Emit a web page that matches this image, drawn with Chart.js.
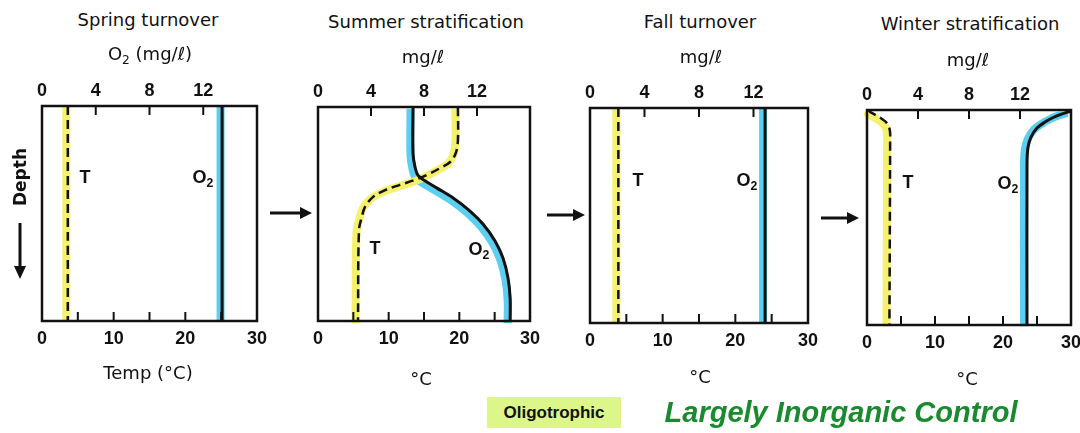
<!DOCTYPE html>
<html>
<head>
<meta charset="utf-8">
<script src="https://cdn.jsdelivr.net/npm/chart.js@4.4.0/dist/chart.umd.min.js"></script>
<style>
  html, body { margin: 0; padding: 0; background: #fff; }
  #stage { position: relative; width: 1080px; height: 433px; overflow: hidden; font-family: "DejaVu Sans", sans-serif; color: #111; }
  .pane { position: absolute; }
  .t { position: absolute; transform: translate(-50%, -50%); white-space: nowrap; line-height: 1; }
  .title { font-size: 18px; }
  .lab { font-family: "Liberation Sans", Arial, sans-serif; font-weight: bold; font-size: 18px; }
  sub { font-size: 0.68em; vertical-align: -0.35em; line-height: 0; }
  #oligo { position: absolute; left: 487px; top: 397px; width: 134px; height: 31px; background: #dcf68a;
           font-family: "Liberation Sans", Arial, sans-serif; font-weight: bold; font-size: 17px;
           display: flex; align-items: center; justify-content: center; }
  #control { font-family: "Liberation Sans", Arial, sans-serif; font-weight: bold; font-style: italic; font-size: 29px; color: #198a2d; }
  svg { position: absolute; left: 0; top: 0; }
</style>
</head>
<body>
<div id="stage">
  <div class="t title" style="left:148px;top:20px">Spring turnover</div>
  <div class="t title" style="left:150px;top:54px">O<sub>2</sub> (mg/ℓ)</div>
  <div class="t title" style="left:148px;top:373px">Temp (°C)</div>

  <div class="t title" style="left:426px;top:22px">Summer stratification</div>
  <div class="t title" style="left:423px;top:57px">mg/ℓ</div>
  <div class="t title" style="left:421px;top:379px">°C</div>

  <div class="t title" style="left:700px;top:22px">Fall turnover</div>
  <div class="t title" style="left:701px;top:57px">mg/ℓ</div>
  <div class="t title" style="left:700px;top:377px">°C</div>

  <div class="t title" style="left:970px;top:24px">Winter stratification</div>
  <div class="t title" style="left:968px;top:60px">mg/ℓ</div>
  <div class="t title" style="left:967px;top:379px">°C</div>

  <div class="t title" style="left:20px;top:177px;transform:translate(-50%,-50%) rotate(-90deg);font-weight:bold;font-size:17px">Depth</div>

  <svg width="1080" height="433">
    <g fill="#111" stroke="#111">
      <line x1="20" y1="223" x2="20" y2="268" stroke-width="3"/>
      <polygon points="14,266 26,266 20,279" stroke="none"/>
      <line x1="270" y1="213" x2="302" y2="213" stroke-width="3"/>
      <polygon points="300,207 300,219 312,213" stroke="none"/>
      <line x1="547" y1="215" x2="575" y2="215" stroke-width="3"/>
      <polygon points="573,209 573,221 585,215" stroke="none"/>
      <line x1="821" y1="218" x2="849" y2="218" stroke-width="3"/>
      <polygon points="847,212 847,224 859,218" stroke="none"/>
    </g>
  </svg>

  <div id="oligo">Oligotrophic</div>
  <div class="t" id="control" style="left:841px;top:412px">Largely Inorganic Control</div>
</div>

<script>
// depth runs 0 (surface) .. 100 (bottom of the box)
const springDepth = [0, 100];
const springTemp = [3.6, 3.6];
const springO2 = [13.4, 13.4];

const summerTempDepth = [0, 15.4, 21.5, 25.7, 28.5, 31.8, 34.1, 36.4, 38.8, 42, 46.7, 51.4, 57.5, 100];
const summerTemp = [19.8, 19.8, 19.5, 18.7, 17.3, 15.4, 13.7, 11.6, 9.5, 7.8, 6.65, 6.2, 5.8, 5.66];
const summerO2Depth = [0, 21.5, 28, 32, 34.5, 37.9, 42.5, 48.6, 54.7, 62.6, 70.6, 79.9, 89.3, 100];
const summerO2 = [7.17, 7.17, 7.32, 7.55, 8.07, 8.98, 10.2, 11.47, 12.45, 13.36, 13.96, 14.34, 14.5, 14.5];

const fallDepth = [0, 100];
const fallTemp = [3.9, 3.9];
const fallO2 = [12.85, 12.85];

const winterTempDepth = [0, 1, 3.3, 6, 9.3, 15, 100];
const winterTemp = [0.2, 0.5, 1.8, 2.9, 3.35, 3.4, 3.3];
const winterO2Depth = [0.5, 2, 3.5, 5.6, 8.4, 12.6, 17.2, 24.7, 100];
const winterO2 = [16, 15.2, 14.6, 13.96, 13.33, 12.86, 12.63, 12.55, 12.55];

const o2Labels = [0, 4, 8, 12];
const tempMarks = [5, 10, 15, 20, 25];
const o2Marks = [4, 8, 12];

const YELLOW = '#f6f16c';
const CYAN = '#5ccff0';
const INK = '#111';

Chart.defaults.font.family = '"Liberation Sans", Arial, sans-serif';

const pts = (depths, vals) => depths.map((d, i) => ({ x: vals[i], y: d }));

// frame + inward tick marks
const framePlugin = {
  id: 'frame',
  beforeDatasetDraw(chart, args) {
    const ds = chart.data.datasets[args.index];
    if (ds._band) {
      chart.ctx.save();
      chart.ctx.translate(ds._band[0], ds._band[1]);
    }
  },
  afterDatasetDraw(chart, args) {
    if (chart.data.datasets[args.index]._band) chart.ctx.restore();
  },
  afterDraw(chart) {
    const { ctx, chartArea: a, scales } = chart;
    ctx.save();
    ctx.strokeStyle = INK;
    ctx.lineWidth = 2.5;
    ctx.strokeRect(a.left, a.top, a.right - a.left, a.bottom - a.top);
    ctx.lineWidth = 2;
    ctx.beginPath();
    tempMarks.forEach(v => {
      const x = scales.x.getPixelForValue(v);
      ctx.moveTo(x, a.bottom); ctx.lineTo(x, a.bottom - 9);
    });
    o2Marks.forEach(v => {
      const x = scales.x2.getPixelForValue(v);
      ctx.moveTo(x, a.top); ctx.lineTo(x, a.top + 9);
    });
    ctx.stroke();
    ctx.restore();
  }
};

const panels = [
  { box: [42, 106, 257, 321], tD: springDepth, t: springTemp, oD: springDepth, o: springO2, shift: [-1.5, 0] },
  { box: [318, 107, 530, 321], tD: summerTempDepth, t: summerTemp, oD: summerO2Depth, o: summerO2, shift: [-2.5, 2] },
  { box: [590, 108, 808, 323], tD: fallDepth, t: fallTemp, oD: fallDepth, o: fallO2, shift: [-2, 0] },
  { box: [867, 110, 1071, 325], tD: winterTempDepth, t: winterTemp, oD: winterO2Depth, o: winterO2, shift: [-3, 1.5] }
];

const labels = [
  [[85, 177, 'T'], [203, 177, 'O<sub>2</sub>']],
  [[375, 248, 'T'], [479, 249, 'O<sub>2</sub>']],
  [[638, 180, 'T'], [747, 180, 'O<sub>2</sub>']],
  [[908, 182, 'T'], [1008, 183, 'O<sub>2</sub>']]
];

const stage = document.getElementById('stage');
const padX = 30, axisH = 40;

panels.forEach((p, k) => {
  const [L, T, R, B] = p.box;
  const wrap = document.createElement('div');
  wrap.className = 'pane';
  wrap.style.left = (L - padX) + 'px';
  wrap.style.top = (T - axisH) + 'px';
  const cv = document.createElement('canvas');
  cv.width = R - L + 2 * padX;
  cv.height = B - T + 2 * axisH;
  cv.style.width = cv.width + 'px';
  cv.style.height = cv.height + 'px';
  wrap.appendChild(cv);
  stage.insertBefore(wrap, stage.firstChild);

  new Chart(cv, {
    type: 'line',
    data: {
      datasets: [
        { label: 'T', data: pts(p.tD, p.t), xAxisID: 'x', borderColor: INK, borderWidth: 2.5, borderDash: [9, 5] },
        { label: 'O2', data: pts(p.oD, p.o), xAxisID: 'x2', borderColor: INK, borderWidth: 3 },
        { label: 'T band', data: pts(p.tD, p.t), xAxisID: 'x', borderColor: YELLOW, borderWidth: 8, _band: p.shift },
        { label: 'O2 band', data: pts(p.oD, p.o), xAxisID: 'x2', borderColor: CYAN, borderWidth: 8, _band: p.shift }
      ]
    },
    options: {
      responsive: false,
      animation: false,
      indexAxis: 'y',
      layout: { padding: { left: padX, right: padX, top: 0, bottom: 0 } },
      elements: { point: { radius: 0 }, line: { tension: 0.35, fill: false, borderCapStyle: 'butt' } },
      plugins: { legend: { display: false }, tooltip: { enabled: false } },
      scales: {
        x: {
          type: 'linear', position: 'bottom', min: 0, max: 30,
          grid: { display: false, drawTicks: false, tickLength: 0 },
          border: { display: false },
          ticks: { stepSize: 10, color: INK, padding: 7, maxRotation: 0, autoSkip: false, font: { size: 18, weight: 'bold' } },
          afterFit: s => { s.height = axisH; }
        },
        x2: {
          type: 'linear', position: 'top', min: 0, max: 16,
          grid: { display: false, drawTicks: false, tickLength: 0 },
          border: { display: false },
          ticks: { stepSize: 4, color: INK, padding: 4, maxRotation: 0, autoSkip: false, font: { size: 18, weight: 'bold' },
                   callback: v => (o2Labels.includes(v) ? v : '') },
          afterFit: s => { s.height = axisH; }
        },
        y: { type: 'linear', reverse: true, min: 0, max: 100, display: false }
      }
    },
    plugins: [framePlugin]
  });

  labels[k].forEach(([x, y, txt]) => {
    const d = document.createElement('div');
    d.className = 't lab';
    d.style.left = x + 'px';
    d.style.top = y + 'px';
    d.innerHTML = txt;
    stage.appendChild(d);
  });
});
</script>
</body>
</html>
